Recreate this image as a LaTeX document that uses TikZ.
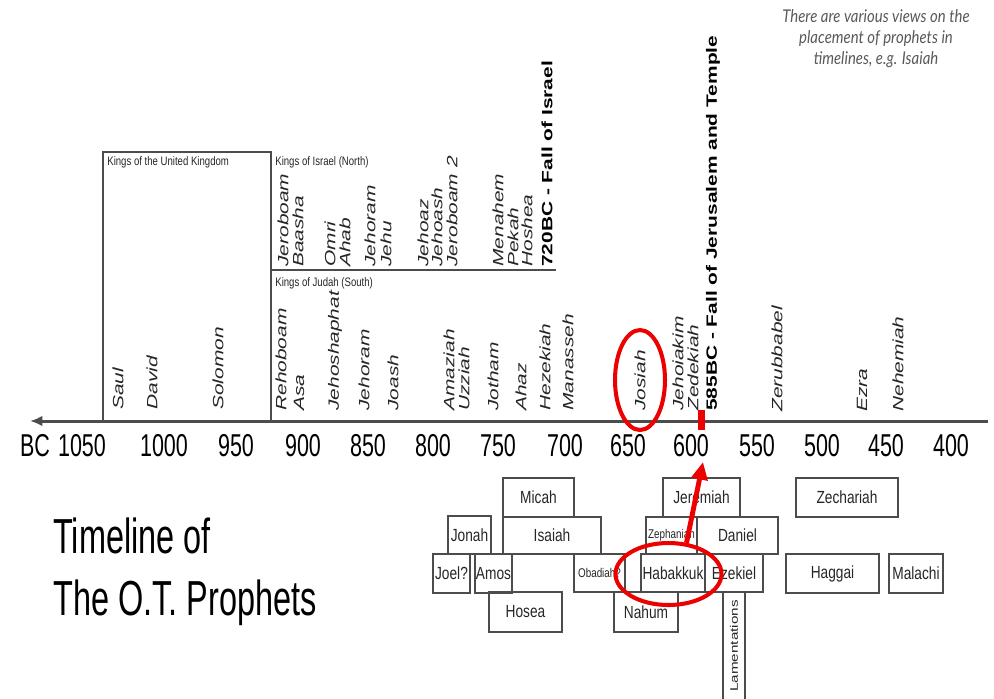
\documentclass[tikz,border=0pt]{standalone}
\usepackage{fontspec}
\setmainfont{Liberation Sans}
\newfontfamily\kingfont{Liberation Sans}[FakeStretch=1.4]
\newfontfamily\narrowfont{Liberation Sans}[FakeStretch=0.78]
\newfontfamily\numfont{Liberation Sans}[FakeStretch=0.68]
\newfontfamily\titlefont{Liberation Sans}[FakeStretch=0.66]
\newfontfamily\notefont{Lato}[FakeStretch=0.85]
\usetikzlibrary{arrows.meta,shapes.geometric}
\definecolor{ink}{gray}{0.15}
\definecolor{rule}{gray}{0.3}
\definecolor{notegray}{gray}{0.35}
\definecolor{markred}{rgb}{0.93,0,0}
\begin{document}
\begin{tikzpicture}[x=0.02cm,y=-0.02cm,
  king/.style={rotate=90,anchor=west,inner sep=0pt,text=ink,font=\kingfont\itshape\fontsize{8.5}{9}\selectfont},
  fall/.style={rotate=90,anchor=west,inner sep=0pt,text=black,font=\kingfont\bfseries\fontsize{8.5}{9}\selectfont},
  realm/.style={anchor=west,inner sep=0pt,text=ink,font=\narrowfont\fontsize{7}{8}\selectfont},
  year/.style={anchor=base,inner sep=0pt,text=black,font=\numfont\fontsize{18}{20}\selectfont},
  pbox/.style 2 args={draw=rule,line width=0.9pt,inner sep=0pt,minimum width=#1*0.02cm,minimum height=#2*0.02cm,text=ink,font=\narrowfont\fontsize{10}{11}\selectfont},
  ring/.style={draw=markred,line width=2.3pt,ellipse,inner sep=0pt}]
\useasboundingbox (0,0) rectangle (994,698);
% kingdoms frame
\draw[rule,line width=0.9pt] (103,152) rectangle (271,421);
\draw[rule,line width=1.1pt] (271,270) -- (556,270);
\node (united) at (107,162) [realm] {Kings of the United Kingdom};
\node (north) at (275,162) [realm] {Kings of Israel (North)};
\node (south) at (275,283) [realm] {Kings of Judah (South)};
% time axis
\coordinate (axisend) at (988,421);
\coordinate (axistip) at (30,421);
\draw[rule,line width=1.7pt,-{Latex[length=7pt,width=6pt]}] (axisend) -- (axistip);
\node (bc) at (35,456) [year] {BC};
\node (y1050) at (82,456) [year] {1050};
\node (y1000) at (164,456) [year] {1000};
\node (y950) at (236,456) [year] {950};
\node (y900) at (303,456) [year] {900};
\node (y850) at (368,456) [year] {850};
\node (y800) at (433,456) [year] {800};
\node (y750) at (498,456) [year] {750};
\node (y700) at (565,456) [year] {700};
\node (y650) at (628,456) [year] {650};
\node (y600) at (691,456) [year] {600};
\node (y550) at (757,456) [year] {550};
\node (y500) at (822,456) [year] {500};
\node (y450) at (886,456) [year] {450};
\node (y400) at (951,456) [year] {400};
% united kingdom
\node (saul) at (118,410) [king] {Saul};
\node (david) at (152,410) [king] {David};
\node (solomon) at (218,410) [king] {Solomon};
% israel
\node (jeroboam) at (283,267) [king] {Jeroboam};
\node (baasha) at (298,267) [king] {Baasha};
\node (omri) at (330,267) [king] {Omri};
\node (ahab) at (345,267) [king] {Ahab};
\node (jehoramN) at (370,267) [king] {Jehoram};
\node (jehu) at (386,267) [king] {Jehu};
\node (jehoaz) at (423,267) [king] {Jehoaz};
\node (jehoash) at (437,267) [king] {Jehoash};
\node (jeroboamB) at (452,267) [king] {Jeroboam 2};
\node (menahem) at (498,267) [king] {Menahem};
\node (pekah) at (513,267) [king] {Pekah};
\node (hoshea) at (527,267) [king] {Hoshea};
\node (fallN) at (547,267) [fall] {720BC - Fall of Israel};
% judah
\node (rehoboam) at (281,411) [king] {Rehoboam};
\node (asa) at (299,411) [king] {Asa};
\node (jehoshaphat) at (335,411) [king] {Jehoshaphat};
\node (jehoramS) at (364,411) [king] {Jehoram};
\node (joash) at (393,411) [king] {Joash};
\node (amaziah) at (449,411) [king] {Amaziah};
\node (uzziah) at (464,411) [king] {Uzziah};
\node (jotham) at (493,411) [king] {Jotham};
\node (ahaz) at (521,411) [king] {Ahaz};
\node (hezekiah) at (545,411) [king] {Hezekiah};
\node (manasseh) at (568,411) [king] {Manasseh};
\node (josiah) at (640,411) [king] {Josiah};
\node (jehoiakim) at (678,411) [king] {Jehoiakim};
\node (zedekiah) at (693,411) [king] {Zedekiah};
\node (fallS) at (713,411) [fall] {585BC - Fall of Jerusalem and Temple};
% after the exile
\node (zerubbabel) at (777,412) [king] {Zerubbabel};
\node (ezra) at (862,412) [king] {Ezra};
\node (nehemiah) at (898,412) [king] {Nehemiah};
% prophets
\node (micah) at (538.5,497.5) [pbox={71}{39}] {Micah};
\node (isaiah) at (552,535.5) [pbox={98}{37}] {Isaiah};
\node (jonah) at (469.5,535) [pbox={43}{38}] {Jonah};
\node (joel) at (451.5,573.5) [pbox={37}{39}] {Joel?};
\node (amos) at (493.5,573.5) [pbox={37}{39}] {Amos};
\node (hosea) at (525.5,612) [pbox={73}{40}] {Hosea};
\node (obadiah) at (599.5,573) [pbox={51}{38},font=\narrowfont\fontsize{7.2}{8}\selectfont] {Obadiah?};
\node (jeremiah) at (701.5,497.5) [pbox={77}{39}] {Jeremiah};
\node (zephaniah) at (671.5,535.5) [pbox={51}{37},font=\narrowfont\fontsize{7.2}{8}\selectfont] {Zephaniah};
\node (daniel) at (737.5,535.5) [pbox={81}{37}] {Daniel};
\node (habakkuk) at (673,573) [pbox={64}{38}] {Habakkuk};
\node (ezekiel) at (734,573) [pbox={58}{38}] {Ezekiel};
\node (nahum) at (646,612) [pbox={64}{40}] {Nahum};
\node (lament) at (734,646) [pbox={108}{22},rotate=90,font=\kingfont\fontsize{6.2}{7}\selectfont] {Lamentations};
\node (zechariah) at (847,497.5) [pbox={102}{39}] {Zechariah};
\node (haggai) at (832.5,573.5) [pbox={93}{39}] {Haggai};
\node (malachi) at (916,573.5) [pbox={54}{39}] {Malachi};
% title and note
\node (titletop) at (53,553) [anchor=base west,inner sep=0pt,text=black,font=\titlefont\fontsize{28}{30}\selectfont] {Timeline of};
\node (titlebottom) at (53,615) [anchor=base west,inner sep=0pt,text=black,font=\titlefont\fontsize{28}{30}\selectfont] {The O.T. Prophets};
\node (note) at (876,39) [align=center,inner sep=0pt,text=notegray,font=\notefont\itshape\fontsize{10}{11.9}\selectfont] {There are various views on the\\placement of prophets in\\timelines, e.g. Isaiah};
% red marks
\node (josring) at (640,380) [ring,minimum width=50*0.02cm,minimum height=100*0.02cm] {};
\node (habring) at (668.5,574) [ring,minimum width=106*0.02cm,minimum height=62*0.02cm] {};
\node (fallmark) at (701.5,420) [fill=markred,inner sep=0pt,minimum width=7*0.02cm,minimum height=20*0.02cm] {};
\coordinate (arrowtip) at (703,462);
\draw[markred,line width=2.8pt,-{Triangle[length=10pt,width=9pt]}] (habring.60) -- (arrowtip);
\end{tikzpicture}
\end{document}
